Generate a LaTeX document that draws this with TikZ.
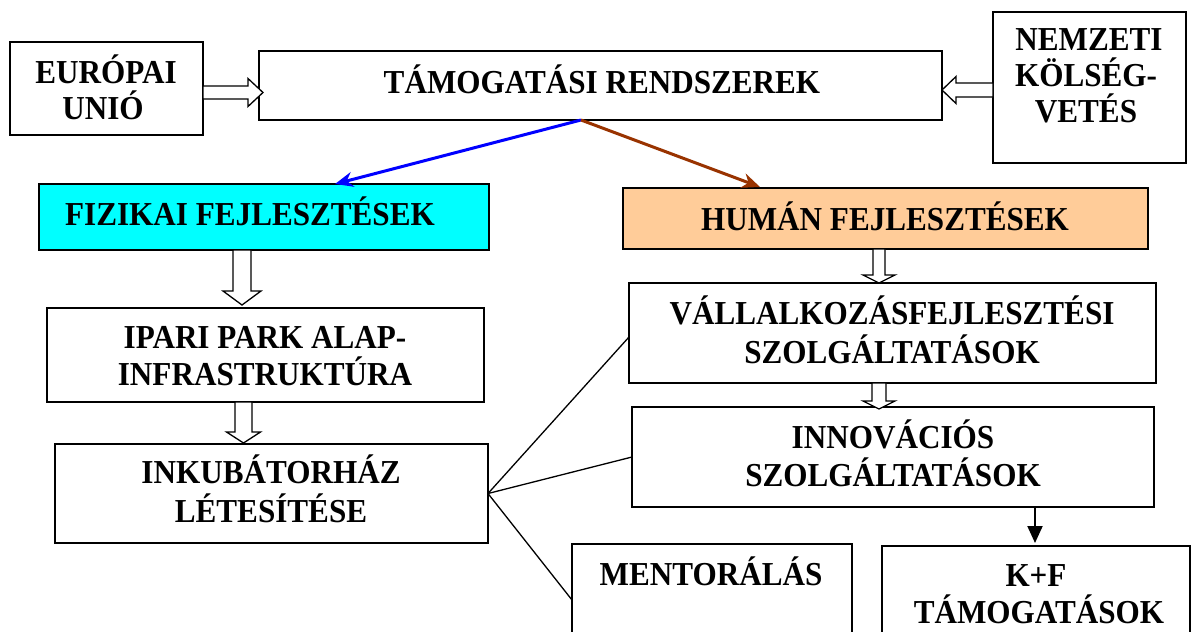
\documentclass[tikz,border=0pt]{standalone}
\usepackage{fontspec}
\setmainfont[FakeStretch=0.93]{Liberation Serif}
\usetikzlibrary{arrows.meta,calc}
\definecolor{cyanfill}{RGB}{0,255,255}
\definecolor{peach}{RGB}{255,204,153}
\definecolor{brownarrow}{RGB}{153,51,0}
\definecolor{bluearrow}{RGB}{0,0,255}
\newcommand\mkbox[6]{\node[box, fill=#6, minimum width={(#4-#2)*1pt}, minimum height={(#5-#3)*1pt}] (#1) at ({(#2+#4)/2},{(#3+#5)/2}) {};}
% vertical hollow arrow: cx, top, headstart, tip, shaft half, head half
\newcommand\hollowdown[6]{\draw[hollow] (#1-#5,#2) -- (#1+#5,#2) -- (#1+#5,#3) -- (#1+#6,#3) -- (#1,#4) -- (#1-#6,#3) -- (#1-#5,#3) -- cycle;}
% horizontal hollow arrow: cy, start x, headstart x, tip x, shaft half, head half
\newcommand\hollowhor[6]{\draw[hollow] (#2,#1-#5) -- (#3,#1-#5) -- (#3,#1-#6) -- (#4,#1) -- (#3,#1+#6) -- (#3,#1+#5) -- (#2,#1+#5) -- cycle;}
\begin{document}
\begin{tikzpicture}[x=1pt,y=-1pt,
  box/.style={draw=black, line width=1.6pt, rectangle, inner sep=0pt, outer sep=0pt},
  txt/.style={font=\bfseries\fontsize{33.5}{38}\selectfont, anchor=base, inner sep=0pt},
  hollow/.style={draw=black, fill=white, line width=1.3pt, line join=miter},
  thin/.style={draw=black, line width=1.3pt},
]
\useasboundingbox (0,0) rectangle (1192,632);
\fill[white] (0,0) rectangle (1192,632);

% boxes
\mkbox{eu}{10}{42}{203}{135}{white}
\mkbox{tam}{259}{51}{942}{120}{white}
\mkbox{nem}{993}{12}{1186}{163}{white}
\mkbox{fiz}{39}{184}{489}{250}{cyanfill}
\mkbox{hum}{623}{188}{1148}{249}{peach}
\mkbox{ipari}{47}{308}{484}{402}{white}
\mkbox{inkub}{55}{444}{488}{543}{white}
\mkbox{vall}{629}{283}{1156}{383}{white}
\mkbox{innov}{632}{407}{1154}{507}{white}
\mkbox{mentor}{572}{544}{852}{656}{white}
\mkbox{kf}{882}{546}{1190}{656}{white}

% texts
\node[txt] (teu1) at (106,83) {EURÓPAI};
\node[txt] (teu2) at (103,119) {UNIÓ};
\node[txt] (ttam) at (602,93) {TÁMOGATÁSI RENDSZEREK};
\node[txt] (tnem1) at (1089,50) {NEMZETI};
\node[txt] (tnem2) at (1086,86) {KÖLSÉG-};
\node[txt] (tnem3) at (1086,122) {VETÉS};
\node[txt] (tfiz) at (250,225) {FIZIKAI FEJLESZTÉSEK};
\node[txt] (thum) at (885,230) {HUMÁN FEJLESZTÉSEK};
\node[txt] (tip1) at (265,348) {IPARI PARK ALAP-};
\node[txt] (tip2) at (265,385) {INFRASTRUKTÚRA};
\node[txt] (tink1) at (271,483) {INKUBÁTORHÁZ};
\node[txt] (tink2) at (271,522) {LÉTESÍTÉSE};
\node[txt] (tva1) at (892,324) {VÁLLALKOZÁSFEJLESZTÉSI};
\node[txt] (tva2) at (892,363) {SZOLGÁLTATÁSOK};
\node[txt] (tin1) at (893,448) {INNOVÁCIÓS};
\node[txt] (tin2) at (893,486) {SZOLGÁLTATÁSOK};
\node[txt] (tme) at (711,585) {MENTORÁLÁS};
\node[txt] (tkf1) at (1036,586) {K+F};
\node[txt] (tkf2) at (1039,623) {TÁMOGATÁSOK};

% hollow block arrows
\hollowhor{92.5}{203}{248}{263}{6.5}{14}
\hollowhor{90}{993}{956}{942}{7}{13.5}
\hollowdown{242}{250}{291}{305}{9}{19}
\hollowdown{243.5}{402}{432}{443}{8.5}{17}
\hollowdown{879}{249}{275}{283}{6}{16}
\hollowdown{879}{383}{401}{409}{7}{16}

% coloured arrows
\coordinate (split) at (581,120);
\coordinate (fizin) at (335,184);
\coordinate (humin) at (760,187);
\draw[bluearrow, line width=3pt, -{Stealth[length=18pt,width=15pt]}] (split) -- (fizin);
\draw[brownarrow, line width=3pt, -{Stealth[length=18pt,width=15pt]}] (split) -- (humin);

% black arrow
\coordinate (kfin) at (1035,543);
\draw[black, line width=2pt, -{Triangle[length=17pt,width=15pt]}] (innov.south -| kfin) -- (kfin);

% thin connectors
\coordinate (vallin) at (629,337);
\draw[thin] (inkub.east) -- (vallin);
\draw[thin] (inkub.east) -- (innov.west);
\draw[thin] (inkub.east) -- (mentor.west);
\end{tikzpicture}
\end{document}
